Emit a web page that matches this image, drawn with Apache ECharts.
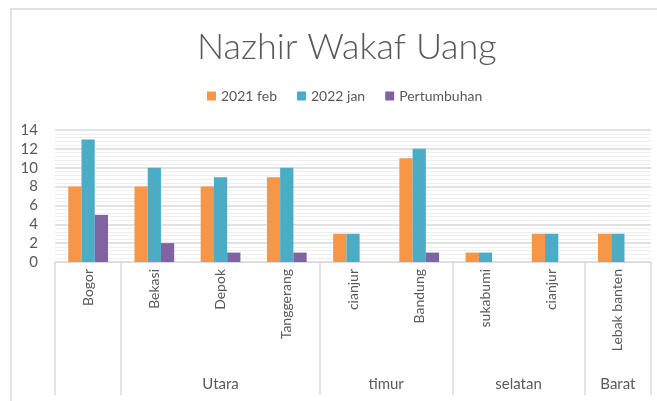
<!DOCTYPE html>
<html>
<head>
<meta charset="utf-8">
<script src="https://cdn.jsdelivr.net/npm/echarts@6/dist/echarts.min.js"></script>
<style>
    html, body { margin: 0; padding: 0; background: #fff; }
    #chart { width: 657px; height: 401px; }
</style>
</head>
<body>
<div id="chart"></div>
<script>
// kategori (kabupaten/kota) dan kelompok wilayah
const categories = ['Bogor', 'Bekasi', 'Depok', 'Tanggerang', 'cianjur', 'Bandung', 'sukabumi', 'cianjur', 'Lebak banten']
const groupNames = ['', 'Utara', 'timur', 'selatan', 'Barat']
const groupSizes = [1, 3, 2, 2, 1]
// nilai tiap seri
const feb2021 = [8, 8, 8, 9, 3, 11, 1, 3, 3]
const jan2022 = [13, 10, 9, 10, 3, 12, 1, 3, 3]
const pertumbuhan = [5, 2, 1, 1, 0, 1, 0, 0, 0]
const yTicks = [0, 2, 4, 6, 8, 10, 12, 14]

const textColor = '#595959'
const lineColor = '#d9d9d9'
const font = 'Lato'

// batas dan titik tengah kelompok pada sumbu bantu (0..jumlah kategori)
let bounds = [0]
let centers = []
groupSizes.forEach(n => {
    let start = bounds[bounds.length - 1]
    bounds.push(start + n)
    centers.push(start + n / 2)
})

let chart = echarts.init(document.getElementById('chart'))
chart.setOption({
    animation: false,
    title: {
        text: 'Nazhir Wakaf Uang',
        left: 192,
        top: 24,
        textStyle: { fontFamily: font, fontSize: 36, fontWeight: 300, color: textColor }
    },
    legend: {
        top: 84,
        left: 202,
        itemWidth: 9,
        itemHeight: 9,
        itemGap: 20,
        icon: 'rect',
        textStyle: { fontFamily: font, fontSize: 14, color: textColor }
    },
    graphic: [{
        type: 'rect',
        shape: { x: 11, y: 9, width: 660, height: 400 },
        style: { fill: 'none', stroke: lineColor, lineWidth: 1.5 },
        silent: true
    }],
    grid: { left: 55, right: 6, top: 130, bottom: 139 },
    xAxis: [{
        type: 'category',
        data: categories,
        axisLine: { show: true, lineStyle: { color: lineColor } },
        axisTick: { show: false },
        axisLabel: {
            interval: 0,
            rotate: 90,
            margin: 7,
            fontFamily: font,
            fontSize: 14,
            color: textColor
        }
    }, {
        // sumbu bantu untuk label kelompok wilayah
        type: 'value',
        min: 0,
        max: categories.length,
        position: 'bottom',
        offset: 133,
        axisLine: { show: false },
        splitLine: { show: false },
        axisTick: {
            show: true,
            inside: true,
            length: 133,
            customValues: bounds,
            lineStyle: { color: lineColor, width: 1.5 }
        },
        axisLabel: {
            inside: true,
            margin: 3,
            customValues: centers,
            formatter: v => groupNames[centers.indexOf(v)],
            fontFamily: font,
            fontSize: 15,
            color: textColor
        }
    }],
    yAxis: {
        type: 'value',
        min: 0,
        max: 14,
        interval: 2,
        axisLine: { show: false },
        axisTick: { show: false },
        axisLabel: {
            margin: 17,
            fontFamily: font,
            fontSize: 15,
            color: textColor,
            customValues: yTicks
        },
        splitLine: { lineStyle: { color: lineColor, width: 1.5 } },
        minorTick: { show: false, splitNumber: 5 },
        minorSplitLine: { show: true, lineStyle: { color: '#efefef' } }
    },
    series: [{
        name: '2021 feb',
        type: 'bar',
        data: feb2021,
        barGap: '0%',
        barCategoryGap: '40%',
        itemStyle: { color: '#F79646' }
    }, {
        name: '2022 jan',
        type: 'bar',
        data: jan2022,
        itemStyle: { color: '#4BACC6' }
    }, {
        name: 'Pertumbuhan',
        type: 'bar',
        data: pertumbuhan,
        itemStyle: { color: '#8064A2' }
    }]
})
</script>
</body>
</html>
